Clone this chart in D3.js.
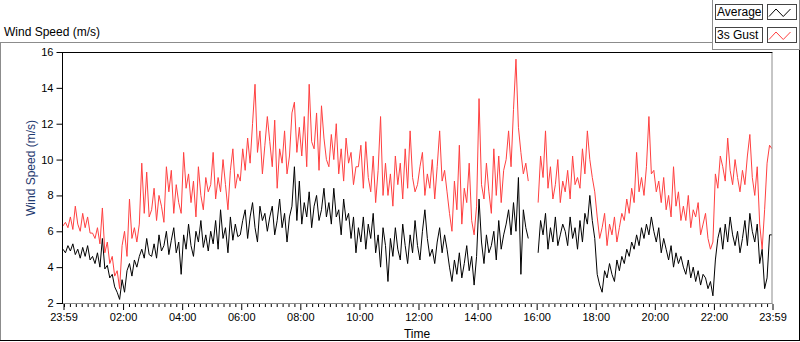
<!DOCTYPE html>
<html>
<head>
<meta charset="utf-8">
<script src="https://cdn.jsdelivr.net/npm/d3@7"></script>
<style>
  html, body { margin: 0; padding: 0; background: #ffffff; }
  svg { display: block; }
  text { font-family: "Liberation Sans", Arial, sans-serif; }
</style>
</head>
<body>
<svg id="chart" width="800" height="342"></svg>
<script>
// ---- data (one sample every 5 minutes from 23:59) ----
const stepMinutes = 5;
const seriesNames = ["Average", "3s Gust"];
const averageSpeed = [
  5.0,4.8,5.2,4.9,5.3,4.7,5.0,4.5,5.1,4.6,5.2,4.4,
  4.6,4.2,4.8,4.0,5.6,3.9,4.1,3.4,3.6,2.9,2.6,2.2,
  3.3,2.6,3.8,4.2,3.5,4.4,4.0,4.6,5.0,4.5,5.6,4.7,
  4.6,5.3,4.5,5.8,4.9,5.2,6.0,4.7,5.5,6.2,4.8,5.4,
  3.6,5.8,5.0,6.4,5.2,4.6,6.0,5.4,6.6,5.1,5.8,4.9,
  6.0,5.3,6.6,5.0,7.2,5.6,6.2,4.8,6.8,5.5,6.4,5.7,
  5.8,6.6,7.2,5.6,6.8,7.6,6.2,5.4,7.4,6.6,7.0,6.0,
  6.8,7.4,5.8,6.6,7.8,6.2,7.0,5.4,6.8,7.4,9.6,6.6,
  8.8,6.4,7.6,6.8,8.2,6.2,7.4,8.0,6.6,7.2,8.4,6.8,
  7.6,6.4,8.4,6.8,7.2,5.8,7.8,6.6,7.0,5.6,6.8,4.8,
  6.2,5.4,6.8,5.0,6.4,5.6,7.0,4.8,5.8,4.0,6.2,5.2,
  3.2,5.6,4.6,6.2,5.0,4.4,6.4,5.2,4.2,5.8,4.8,6.6,
  5.2,4.4,6.0,7.2,5.6,4.6,5.0,4.2,5.4,6.2,4.8,5.8,
  5.0,4.0,3.2,4.4,3.6,4.8,3.4,4.2,5.2,3.8,4.6,3.0,
  4.6,7.8,5.4,4.2,5.8,4.8,5.2,6.0,4.4,6.6,5.0,5.8,
  6.4,7.2,5.8,7.6,6.0,9.0,3.6,7.2,6.2,5.6,null,null,
  null,4.8,6.6,5.8,7.0,5.0,6.2,5.4,6.8,5.2,5.8,6.4,
  6.0,5.2,6.8,5.6,6.2,5.0,6.6,5.4,7.0,6.4,8.0,6.6,
  5.6,3.6,3.0,2.6,3.8,3.4,4.2,3.6,3.2,4.4,3.8,4.6,
  4.2,5.0,4.6,5.4,5.0,5.8,5.2,6.2,5.6,6.4,5.8,6.8,
  6.0,5.4,6.2,4.8,5.6,5.0,4.4,5.2,4.0,4.8,4.2,4.6,
  4.0,3.6,4.4,3.4,4.0,3.2,3.8,3.0,3.6,3.4,2.8,3.2,
  2.4,4.4,5.6,6.2,5.0,6.4,5.4,6.8,5.8,5.2,6.0,4.8,
  5.6,6.6,5.2,7.0,6.0,5.4,6.4,4.2,5.0,2.8,3.4,5.8,
  5.8
];
const gustSpeed = [
  6.3,6.5,6.2,6.8,6.1,7.4,6.4,6.0,7.0,6.2,6.8,5.9,
  5.9,5.6,6.2,5.3,7.3,4.8,5.4,4.2,4.6,3.5,3.8,2.8,
  5.2,6.0,4.6,7.8,5.6,6.2,5.4,6.4,9.8,7.0,9.3,6.8,
  7.2,8.4,6.6,8.0,7.4,6.5,9.6,8.2,9.4,7.0,8.6,7.6,
  7.0,10.4,8.4,9.2,7.6,8.8,6.8,9.6,8.0,7.2,9.0,8.2,
  8.6,10.4,7.8,9.0,8.2,10.0,8.6,7.2,9.4,10.6,8.4,9.2,
  8.8,10.6,9.4,11.2,9.8,12.0,14.2,10.4,11.6,9.2,10.8,12.4,
  11.0,9.6,12.2,8.4,10.6,9.8,11.6,9.2,10.2,12.6,13.2,10.4,
  11.8,10.2,12.4,9.6,14.2,11.0,10.6,12.6,9.4,13.0,11.2,10.0,
  9.6,11.4,10.0,12.0,9.2,10.6,8.8,11.2,9.8,10.4,8.6,9.6,
  9.6,10.8,8.4,11.0,9.0,8.2,10.2,7.6,9.4,12.4,8.0,9.8,
  8.0,9.2,7.4,10.2,8.6,9.8,7.8,10.6,8.4,11.6,9.0,8.2,
  8.6,9.6,10.4,8.0,9.2,8.4,10.0,7.8,9.6,11.6,8.8,9.4,
  8.2,7.0,6.0,8.8,7.2,10.8,6.4,8.4,7.6,9.8,6.6,5.8,
  7.4,13.4,8.6,7.8,9.8,8.2,7.0,10.6,8.0,10.2,7.6,9.4,
  10.0,11.6,9.6,12.8,15.6,11.8,10.4,9.2,9.8,8.8,null,null,
  null,7.6,10.2,9.0,11.6,8.4,9.6,7.8,8.6,10.0,7.6,8.8,
  8.2,9.4,7.8,10.2,8.6,9.0,8.4,10.6,9.2,11.6,10.0,9.0,
  8.2,6.8,5.6,6.2,7.0,5.2,6.4,5.8,6.8,5.4,6.2,7.0,
  6.6,7.8,7.0,8.4,7.6,10.4,8.2,9.0,8.0,9.6,12.4,9.2,
  9.4,8.2,8.8,7.6,9.0,7.2,8.0,6.8,9.6,7.4,8.2,6.6,
  7.4,6.6,8.0,6.2,7.2,6.8,7.6,5.8,6.4,7.0,5.6,5.0,
  5.4,9.2,8.4,10.2,9.6,8.8,11.2,9.4,8.6,10.0,9.0,8.2,
  9.4,8.6,10.2,11.4,9.0,8.0,9.6,6.4,5.0,7.2,9.8,10.8,
  10.6
];
// x-axis tick labels and their minute offsets from the start (23:59)
const xTickLabels  = ["23:59","02:00","04:00","06:00","08:00","10:00","12:00","14:00","16:00","18:00","20:00","22:00","23:59"];
const xTickMinutes = [0,121,241,361,481,601,721,841,961,1081,1201,1321,1440];
const yTickValues  = [2,4,6,8,10,12,14,16];

// ---- layout ----
const svg = d3.select("#chart");
const plot = { left: 62.5, right: 772, top: 52, bottom: 303.5 };

const x = d3.scaleLinear().domain([0, 1440]).range([63, 772]);
const y = d3.scaleLinear().domain([2, 16]).range([303, 52]);

// outer frame
svg.append("line").attr("x1",0).attr("x2",712).attr("y1",42.5).attr("y2",42.5).attr("stroke","#8c8c8c");
svg.append("line").attr("x1",0.5).attr("x2",0.5).attr("y1",42).attr("y2",341).attr("stroke","#8c8c8c");
svg.append("line").attr("x1",0).attr("x2",800).attr("y1",340.5).attr("y2",340.5).attr("stroke","#000");
svg.append("line").attr("x1",799.5).attr("x2",799.5).attr("y1",49).attr("y2",341).attr("stroke","#000");

// legend frame
svg.append("line").attr("x1",712.5).attr("x2",712.5).attr("y1",0).attr("y2",49).attr("stroke","#8c8c8c");
svg.append("line").attr("x1",712).attr("x2",800).attr("y1",49.5).attr("y2",49.5).attr("stroke","#8c8c8c");
svg.append("line").attr("x1",799.5).attr("x2",799.5).attr("y1",0).attr("y2",49).attr("stroke","#8c8c8c");

// chart title
svg.append("text").attr("x",4).attr("y",36).attr("font-size",12).attr("fill","#000").text("Wind Speed (m/s)");

// clip
svg.append("defs").append("clipPath").attr("id","clip")
  .append("rect").attr("x",63).attr("y",52).attr("width",709).attr("height",251.5);

// series lines
const series = [
  { name: seriesNames[0], values: averageSpeed, color: "#000000" },
  { name: seriesNames[1], values: gustSpeed, color: "#ff4040" }
];
const line = d3.line()
  .defined(d => d != null)
  .x((d, i) => x(Math.min(i * stepMinutes, 1440)))
  .y(d => y(d));

const g = svg.append("g").attr("clip-path","url(#clip)");
series.forEach(s => {
  g.append("path").datum(s.values)
    .attr("fill","none").attr("stroke",s.color).attr("stroke-width",1)
    .attr("d", line);
});

// plot frame
svg.append("line").attr("x1",62).attr("x2",772.5).attr("y1",52.5).attr("y2",52.5).attr("stroke","#000");
svg.append("line").attr("x1",62.5).attr("x2",62.5).attr("y1",52).attr("y2",304).attr("stroke","#000");
svg.append("line").attr("x1",63).attr("x2",772.5).attr("y1",303.5).attr("y2",303.5).attr("stroke","#8c8c8c");
svg.append("line").attr("x1",772).attr("x2",772).attr("y1",53).attr("y2",304).attr("stroke","#8c8c8c");

// y axis
const yAxis = d3.axisLeft(y).tickValues(yTickValues).tickSize(6).tickSizeOuter(0).tickPadding(3);
const yg = svg.append("g").attr("transform","translate(62.5,0)").call(yAxis);
yg.select(".domain").remove();
yg.selectAll(".tick line").attr("stroke","#000");
yg.selectAll(".tick text").attr("font-size",11).attr("fill","#000").attr("font-family","Liberation Sans, Arial, sans-serif");

// x axis minor ticks
const minorMinutes = d3.range(0, 121).map(k => Math.min(1 + 12 * k, 1440)).filter(m => !xTickMinutes.includes(m));
const xMinor = d3.axisBottom(x).tickValues(minorMinutes).tickSize(3).tickFormat("").tickSizeOuter(0);
const xmg = svg.append("g").attr("transform","translate(0.5,304)").call(xMinor);
xmg.select(".domain").remove();
xmg.selectAll(".tick line").attr("stroke","#000");

// x axis major ticks
const xAxis = d3.axisBottom(x).tickValues(xTickMinutes).tickSize(6).tickSizeOuter(0).tickPadding(3)
  .tickFormat((d, i) => xTickLabels[i]);
const xg = svg.append("g").attr("transform","translate(0.5,304)").call(xAxis);
xg.select(".domain").remove();
xg.selectAll(".tick line").attr("stroke","#000");
xg.selectAll(".tick text").attr("font-size",11).attr("fill","#000").attr("font-family","Liberation Sans, Arial, sans-serif");

// axis titles
svg.append("text").attr("x",417).attr("y",338).attr("text-anchor","middle")
  .attr("font-size",12).attr("fill","#000").text("Time");
svg.append("text").attr("transform","translate(35,168) rotate(-90)").attr("text-anchor","middle")
  .attr("font-size",12).attr("fill","#1f3a70").text("Wind Speed (m/s)");

// legend
const iconPts = [[0,1],[0.28,0],[0.57,1],[0.86,0]];
const iconLine = d3.line().x(d => d[0]).y(d => d[1]);
series.forEach((s, i) => {
  const top = 4 + i * 23;
  svg.append("rect").attr("x",715.5).attr("y",top + 0.5).attr("width",47).attr("height",15)
    .attr("fill","#fff").attr("stroke","#444");
  svg.append("text").attr("x",717).attr("y",top + 12).attr("font-size",12).attr("fill","#000").text(s.name);
  svg.append("rect").attr("x",767.5).attr("y",top + 0.5).attr("width",29).attr("height",15)
    .attr("fill","#fff").attr("stroke","#444");
  const sx = d3.scaleLinear().domain([0,1]).range([769, 794]);
  const sy = d3.scaleLinear().domain([0,1]).range([top + 5, top + 12.5]);
  svg.append("path").datum(iconPts.map(p => [sx(p[0]), sy(p[1])]))
    .attr("fill","none").attr("stroke",s.color).attr("stroke-width",1).attr("d", iconLine);
});
</script>
</body>
</html>
